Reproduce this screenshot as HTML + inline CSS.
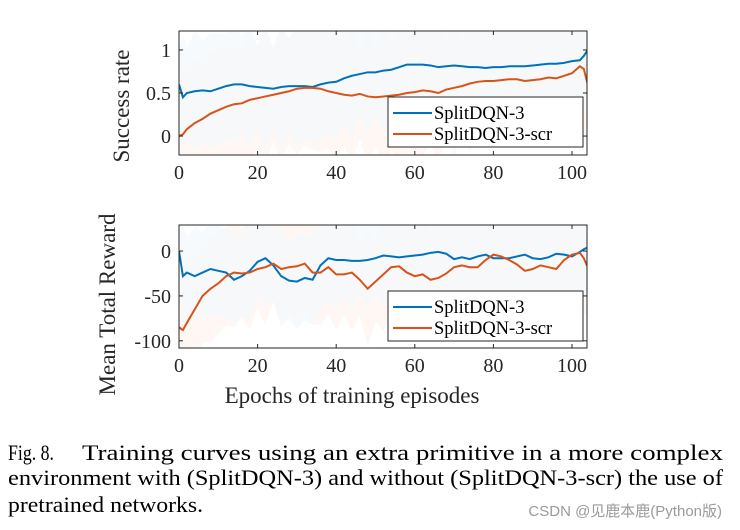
<!DOCTYPE html>
<html><head><meta charset="utf-8"><style>
html,body{margin:0;padding:0;background:#fff;}
svg{display:block;font-family:"Liberation Serif",serif;}
</style></head><body>
<svg id="c" width="740" height="530" viewBox="0 0 740 530"></svg>
<script>
const epochs=[0,1,2,4,6,8,10,12,14,16,18,20,22,24,26,28,30,32,34,36,38,40,42,44,46,48,50,52,54,56,58,60,62,64,66,68,70,72,74,76,78,80,82,84,86,88,90,92,94,96,98,100,102,103,104];
const succBlue=[0.6,0.45,0.5,0.52,0.53,0.52,0.55,0.58,0.6,0.6,0.58,0.57,0.56,0.55,0.57,0.58,0.58,0.58,0.57,0.6,0.62,0.63,0.67,0.7,0.72,0.74,0.74,0.76,0.77,0.8,0.83,0.83,0.83,0.82,0.8,0.81,0.82,0.81,0.8,0.8,0.79,0.8,0.8,0.81,0.81,0.81,0.82,0.83,0.84,0.84,0.85,0.87,0.88,0.93,1.0];
const succOrange=[0.0,0.02,0.08,0.15,0.2,0.26,0.3,0.34,0.37,0.38,0.42,0.44,0.46,0.48,0.5,0.52,0.55,0.56,0.56,0.55,0.52,0.5,0.48,0.47,0.49,0.46,0.45,0.46,0.47,0.48,0.5,0.51,0.53,0.52,0.5,0.54,0.56,0.58,0.61,0.63,0.64,0.64,0.65,0.66,0.66,0.64,0.65,0.66,0.68,0.67,0.7,0.73,0.81,0.78,0.6];
const rewBlue=[0,-28,-24,-28,-24,-20,-22,-24,-32,-28,-22,-12,-8,-16,-28,-33,-34,-30,-32,-16,-8,-10,-10,-11,-11,-10,-8,-5,-6,-7,-6,-5,-4,-2,-1,-3,-9,-7,-9,-6,-4,-8,-8,-8,-6,-4,-8,-9,-7,-3,-4,-6,-1,2,4];
const rewOrange=[-85,-88,-80,-65,-50,-42,-36,-28,-24,-25,-24,-20,-18,-14,-20,-18,-17,-14,-24,-24,-18,-26,-26,-24,-32,-42,-34,-26,-18,-17,-24,-28,-26,-32,-30,-25,-18,-16,-18,-18,-10,-4,-6,-10,-15,-22,-20,-16,-18,-20,-10,-4,-2,-8,-18];
const xTicks=[0,20,40,60,80,100];
const succTicks=[0,0.5,1];
const succTickLabels=["0","0.5","1"];
const rewTicks=[-100,-50,0];
const rewTickLabels=["-100","-50","0"];
const legendLabels=["SplitDQN-3","SplitDQN-3-scr"];

const NS="http://www.w3.org/2000/svg";
const svg=document.getElementById('c');
function mk(tag,attrs,parent){const e=document.createElementNS(NS,tag);for(const k in attrs)e.setAttribute(k,attrs[k]);(parent||svg).appendChild(e);return e;}
const BLUE="#0072bd",ORANGE="#d95319";
const xScale=v=>179+(v-0)*(572-179)/100;
const X0=179,X1=587;

function panel(name,top,bottom,yMin,yMax,yTicks,yLabels,blue,orange,spreadB,spreadO,legY,yTitle,yTitleX,yTitleOff){
  const yS=v=>bottom-(v-yMin)*(bottom-top)/(yMax-yMin);
  const g=mk('g',{});
  
  
  const clipId=name+'-clip';
  const cp=mk('clipPath',{id:clipId},g);mk('rect',{x:X0,y:top,width:X1-X0,height:bottom-top},cp);
  const bands=mk('g',{'clip-path':'url(#'+clipId+')'},g);
  [[orange,spreadO,'#fdf4ee'],[blue,spreadB,'#f3f8fc']].forEach(([s,sp,col],k)=>{
    let up=[],dn=[];
    s.forEach((v,i)=>{const w=sp*(1+0.6*Math.abs(Math.sin(i*1.7)));up.push(xScale(epochs[i])+','+yS(v+w));dn.unshift(xScale(epochs[i])+','+yS(v-w));});
    const p=mk('polygon',{points:up.concat(dn).join(' '),fill:col,opacity:0.7},bands);
    
    
  });
  [[blue,BLUE,'blue'],[orange,ORANGE,'orange']].forEach(([s,c,n])=>{
    const l=mk('polyline',{points:s.map((v,i)=>xScale(epochs[i])+','+yS(v)).join(' '),fill:'none',stroke:c,'stroke-width':2},bands);
    
    
  });
  const ax=mk('rect',{x:X0,y:top,width:X1-X0,height:bottom-top,fill:'none',stroke:'#262626','stroke-width':1},g);
  
  
  xTicks.forEach(t=>{const x=xScale(t);mk('line',{x1:x,x2:x,y1:bottom,y2:bottom-4,stroke:'#262626'},g);mk('line',{x1:x,x2:x,y1:top,y2:top+4,stroke:'#262626'},g);
    const tx=mk('text',{x:x,y:bottom+24,'text-anchor':'middle','font-size':20,fill:'#262626'},g);tx.textContent=t;
    
    });
  yTicks.forEach((t,i)=>{const y=yS(t);mk('line',{x1:X0,x2:X0+4,y1:y,y2:y,stroke:'#262626'},g);mk('line',{x1:X1,x2:X1-4,y1:y,y2:y,stroke:'#262626'},g);
    const tx=mk('text',{x:X0-8,y:y+7,'text-anchor':'end','font-size':20,fill:'#262626'},g);tx.textContent=yLabels[i];
    
    });
  const yt=mk('text',{transform:`translate(${yTitleX},${(top+bottom)/2+yTitleOff}) rotate(-90)`,'text-anchor':'middle','font-size':23,fill:'#262626'},g);
  yt.textContent=yTitle;
  
  
  const lg=mk('g',{},g);
  
  
  mk('rect',{x:388,y:legY,width:195,height:50,fill:'#fff',stroke:'#262626','stroke-width':1},lg);
  [BLUE,ORANGE].forEach((c,i)=>{const y=legY+16+i*21;
    mk('line',{x1:393,x2:432,y1:y,y2:y,stroke:c,'stroke-width':2},lg);
    const t=mk('text',{x:434,y:y+6,'font-size':18.5,fill:'#000'},lg);t.textContent=legendLabels[i];
    
    });
}
panel('success',31,155,-0.22,1.22,succTicks,succTickLabels,succBlue,succOrange,0.45,0.5,97,'Success rate',129,13);
panel('reward',225,348,-108,29,rewTicks,rewTickLabels,rewBlue,rewOrange,35,40,291,'Mean Total Reward',115,18);
const xl=mk('text',{x:352,y:403,'text-anchor':'middle','font-size':23,fill:'#262626'});
xl.textContent='Epochs of training episodes';


const cap=[["Fig. 8.",8,460,46],["Training curves using an extra primitive in a more complex",82,460,641],["environment with (SplitDQN-3) and without (SplitDQN-3-scr) the use of",8,485,715],["pretrained networks.",8,512,195]];
cap.forEach(([s,x,y,w])=>{
  const t=mk('text',{x:x,y:y,'font-size':22,fill:'#000',textLength:w,lengthAdjust:'spacingAndGlyphs'});t.textContent=s;
  
  });
const wm=mk('text',{x:722,y:516,'text-anchor':'end','font-size':15,fill:'#9a9a9a','font-family':'"Liberation Sans","Noto Sans CJK SC",sans-serif'});
wm.textContent='CSDN @见鹿本鹿(Python版)';


</script>
</body></html>
